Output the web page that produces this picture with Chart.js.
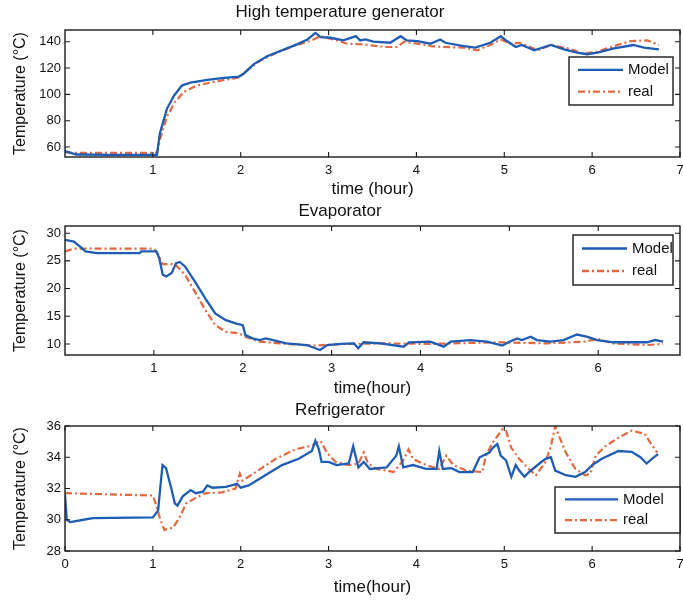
<!DOCTYPE html>
<html>
<head>
<meta charset="utf-8">
<script src="https://cdn.jsdelivr.net/npm/chart.js@4.4.1/dist/chart.umd.min.js"></script>
<style>
  html, body { margin: 0; padding: 0; background: #ffffff; }
  .panel { width: 683px; height: 200px; }
  canvas { display: block; }
</style>
</head>
<body>
<div class="panel"><canvas id="genChart" width="683" height="200"></canvas></div>
<div class="panel"><canvas id="evapChart" width="683" height="200"></canvas></div>
<div class="panel"><canvas id="fridgeChart" width="683" height="200"></canvas></div>
<script>
// ------------------------------------------------------------
// Data (time in hours, temp in °C)
// ------------------------------------------------------------

// High temperature generator
const genModelT = [0, 0.13, 0.5, 1.0, 1.046, 1.08, 1.16, 1.24, 1.33, 1.43, 1.62, 1.81, 1.98, 2.03, 2.15,
  2.30, 2.49, 2.64, 2.76, 2.85, 2.91, 3.02, 3.17, 3.31, 3.36, 3.42, 3.51, 3.70, 3.82, 3.89,
  4.01, 4.16, 4.27, 4.33, 4.54, 4.67, 4.84, 4.96, 5.03, 5.13, 5.20, 5.34, 5.53, 5.68, 5.83,
  5.94, 6.06, 6.25, 6.47, 6.59, 6.76];
const genModelV = [56.8, 54.3, 54, 54, 54, 70.5, 89, 99, 106.7, 109, 111, 112.5, 113.5, 115.5, 123,
  129, 134, 138, 141.7, 146.7, 143.5, 143, 141, 144.2, 141, 141.7, 140, 139.2, 144.2, 141,
  140.5, 138.5, 141.7, 139.2, 136.7, 135.5, 139.2, 144.2, 140.5, 136, 137.5, 133.5, 137.5, 134.2, 131.7,
  130.5, 131.7, 135, 137.5, 135.5, 134.2];
const genRealT = [0, 0.1, 0.5, 1.0, 1.05, 1.08, 1.16, 1.25, 1.35, 1.5, 1.73, 1.96, 2.07, 2.22, 2.41,
  2.60, 2.79, 2.91, 3.06, 3.21, 3.40, 3.63, 3.78, 3.86, 4.01, 4.16, 4.31, 4.54, 4.69, 4.84,
  4.96, 5.07, 5.18, 5.38, 5.53, 5.72, 5.90, 6.06, 6.25, 6.44, 6.63, 6.76];
const genRealV = [56, 55.5, 55.5, 55.5, 56, 65.5, 83, 94, 101.7, 106.7, 110, 112.5, 118, 125.5, 131.7,
  136.7, 140.5, 144.2, 141.7, 138.5, 138, 136, 136, 140, 138.5, 136.7, 136, 135.5, 133.5, 137.5,
  141.7, 138.5, 139.2, 133.5, 137.5, 135, 131, 132.5, 136.7, 140.5, 141, 137.5];
const genXTicks = [1, 2, 3, 4, 5, 6, 7];
const genYTicks = [60, 80, 100, 120, 140];

// Evaporator
const evapModelT = [0, 0.1, 0.19, 0.23, 0.36, 0.84, 0.86, 1.03, 1.06, 1.10, 1.14, 1.20, 1.25, 1.29, 1.35,
  1.46, 1.58, 1.69, 1.81, 1.92, 2.0, 2.03, 2.11, 2.19, 2.26, 2.34, 2.49, 2.72, 2.87, 2.95,
  3.10, 3.25, 3.30, 3.36, 3.55, 3.81, 3.87, 4.11, 4.26, 4.34, 4.56, 4.75, 4.92, 5.0, 5.09,
  5.14, 5.24, 5.31, 5.46, 5.61, 5.76, 5.87, 5.99, 6.17, 6.55, 6.64, 6.73];
const evapModelV = [28.8, 28.5, 27.3, 26.7, 26.4, 26.4, 26.7, 26.7, 25.5, 22.5, 22.2, 22.8, 24.6, 24.8, 24,
  21.3, 18.2, 15.5, 14.3, 13.7, 13.4, 11.6, 11.0, 10.7, 11, 10.7, 10.1, 9.8, 8.9, 9.8,
  10, 10.1, 9.2, 10.3, 10.1, 9.5, 10.3, 10.4, 9.5, 10.4, 10.7, 10.4, 9.7, 10.4, 11.0,
  10.7, 11.3, 10.7, 10.4, 10.7, 11.7, 11.3, 10.7, 10.3, 10.3, 10.7, 10.4];
const evapRealT = [0, 0.1, 1.0, 1.05, 1.10, 1.24, 1.35, 1.46, 1.58, 1.69, 1.81, 1.96, 2.03, 2.19, 2.49,
  2.79, 3.17, 3.6, 4.1, 4.86, 5.42, 5.84, 5.99, 6.17, 6.55, 6.73];
const evapRealV = [26.7, 27.2, 27.2, 26.1, 24.4, 24.4, 22.5, 19.5, 16.1, 13.4, 12.2, 11.9, 11.3, 10.4, 10,
  9.7, 10, 10.1, 10, 10.3, 10.1, 10.4, 10.9, 10.1, 9.8, 10];
const evapXTicks = [1, 2, 3, 4, 5, 6];
const evapYTicks = [10, 15, 20, 25, 30];

// Refrigerator
const fridgeModelT = [0, 0.02, 0.06, 0.21, 0.32, 1.0, 1.06, 1.08, 1.11, 1.15, 1.21, 1.25, 1.28, 1.34, 1.43,
  1.49, 1.57, 1.62, 1.68, 1.83, 1.96, 2.0, 2.09, 2.28, 2.47, 2.66, 2.81, 2.85, 2.89, 2.92,
  3.0, 3.09, 3.23, 3.28, 3.34, 3.40, 3.47, 3.66, 3.77, 3.80, 3.85, 3.96, 4.11, 4.23, 4.26,
  4.30, 4.40, 4.49, 4.64, 4.72, 4.83, 4.87, 4.92, 4.96, 5.02, 5.08, 5.13, 5.17, 5.23, 5.28,
  5.40, 5.47, 5.53, 5.58, 5.70, 5.81, 5.92, 6.0, 6.11, 6.30, 6.45, 6.55, 6.62, 6.68, 6.75];
const fridgeModelV = [31.6, 30, 29.85, 30, 30.1, 30.15, 30.6, 31.8, 33.5, 33.3, 32, 31.05, 30.9, 31.5, 31.9,
  31.7, 31.8, 32.2, 32.05, 32.1, 32.3, 32.05, 32.2, 32.85, 33.5, 33.9, 34.4, 35.05, 34.5, 33.7,
  33.7, 33.5, 33.6, 34.7, 33.35, 33.7, 33.25, 33.35, 34.1, 34.7, 33.35, 33.5, 33.25, 33.25, 34.4,
  33.25, 33.3, 33.05, 33.05, 34.0, 34.3, 34.6, 34.85, 34.1, 33.8, 32.75, 33.5, 33.15, 32.75, 33.05,
  33.6, 33.9, 34.0, 33.15, 32.85, 32.75, 33.05, 33.5, 33.9, 34.4, 34.35, 34.0, 33.6, 33.9, 34.2];
const fridgeRealT = [0, 1.0, 1.04, 1.08, 1.13, 1.23, 1.30, 1.38, 1.49, 1.60, 1.79, 1.94, 1.99, 2.02, 2.17,
  2.40, 2.62, 2.81, 2.91, 2.98, 3.08, 3.23, 3.34, 3.40, 3.45, 3.55, 3.66, 3.74, 3.85, 3.91,
  3.96, 4.11, 4.26, 4.34, 4.42, 4.57, 4.75, 4.79, 4.87, 4.98, 5.02, 5.08, 5.17, 5.28, 5.36,
  5.47, 5.53, 5.58, 5.62, 5.70, 5.81, 5.92, 5.98, 6.04, 6.15, 6.30, 6.45, 6.60, 6.66, 6.74];
const fridgeRealV = [31.7, 31.55, 30.9, 30.1, 29.35, 29.5, 30.1, 31.05, 31.4, 31.7, 31.75, 32.0, 32.95, 32.5, 33.05,
  33.9, 34.5, 34.75, 35.05, 34.3, 33.7, 33.5, 33.6, 34.3, 33.6, 33.25, 33.15, 33.05, 33.8, 34.5,
  33.9, 33.5, 33.25, 34.1, 33.5, 33.15, 33.05, 34.1, 34.95, 35.8, 35.7, 34.6, 33.9, 33.25, 32.85,
  33.7, 34.7, 36, 35.4, 34.3, 33.25, 32.85, 32.95, 34.1, 34.7, 35.25, 35.7, 35.5, 34.95, 34.3];
const fridgeXTicks = [0, 1, 2, 3, 4, 5, 6, 7];
const fridgeYTicks = [28, 30, 32, 34, 36];

const seriesNames = ['Model', 'real'];

// ------------------------------------------------------------
// Look
// ------------------------------------------------------------
const COLORS = {
  model: '#1f5db4',
  real: '#e2683f',
  axis: '#1a1a1a',
  text: '#111111'
};
const REAL_DASH = [7, 3, 2, 3];
const TITLE_SIZE = 17;
const TITLE_LH = TITLE_SIZE * 1.2;

Chart.defaults.font.family = "'Liberation Sans', Arial, sans-serif";
Chart.defaults.color = COLORS.text;
Chart.defaults.animation = false;

function pairs(ts, vs) {
  return ts.map(function(t, i) { return { x: t, y: vs[i] }; });
}

// MATLAB-like box with inward tick marks
const matlabFrame = {
  id: 'matlabFrame',
  afterDatasetsDraw(chart) {
    const ctx = chart.ctx, a = chart.chartArea;
    const sx = chart.scales.x, sy = chart.scales.y;
    const len = 5;
    ctx.save();
    ctx.strokeStyle = COLORS.axis;
    ctx.lineWidth = 1.4;
    ctx.strokeRect(a.left, a.top, a.right - a.left, a.bottom - a.top);
    ctx.lineWidth = 1.1;
    ctx.beginPath();
    sx.ticks.forEach(function(t) {
      const px = sx.getPixelForValue(t.value);
      ctx.moveTo(px, a.bottom); ctx.lineTo(px, a.bottom - len);
      ctx.moveTo(px, a.top); ctx.lineTo(px, a.top + len);
    });
    sy.ticks.forEach(function(t) {
      const py = sy.getPixelForValue(t.value);
      ctx.moveTo(a.left, py); ctx.lineTo(a.left + len, py);
      ctx.moveTo(a.right, py); ctx.lineTo(a.right - len, py);
    });
    ctx.stroke();
    ctx.restore();
  }
};

// legend box drawn inside the axes
const insideLegend = {
  id: 'insideLegend',
  afterDraw(chart, args, opts) {
    const ctx = chart.ctx, a = chart.chartArea;
    const w = opts.width, h = opts.height;
    const left = a.right - opts.right - w;
    const top = opts.top != null ? a.top + opts.top : a.bottom - opts.bottom - h;
    ctx.save();
    ctx.fillStyle = '#ffffff';
    ctx.fillRect(left, top, w, h);
    ctx.strokeStyle = COLORS.axis;
    ctx.lineWidth = 1.4;
    ctx.strokeRect(left, top, w, h);
    ctx.font = "15px 'Liberation Sans', Arial, sans-serif";
    ctx.textBaseline = 'middle';
    chart.data.datasets.forEach(function(ds, i) {
      const y = top + h * (i === 0 ? 0.27 : 0.72);
      ctx.beginPath();
      ctx.strokeStyle = ds.borderColor;
      ctx.lineWidth = 2.3;
      ctx.setLineDash(ds.borderDash || []);
      ctx.moveTo(left + opts.lineStart, y);
      ctx.lineTo(left + opts.lineStart + opts.lineLength, y);
      ctx.stroke();
      ctx.setLineDash([]);
      ctx.fillStyle = COLORS.text;
      ctx.fillText(ds.label, left + opts.lineStart + opts.lineLength + 5, y);
    });
    ctx.restore();
  }
};

function renderPanel(id, cfg) {
  const ctx = document.getElementById(id).getContext('2d');
  const padTop = Math.max(cfg.titleY - TITLE_LH / 2, 0);
  return new Chart(ctx, {
    type: 'line',
    data: {
      datasets: [
        {
          label: seriesNames[0],
          data: pairs(cfg.modelT, cfg.modelV),
          borderColor: COLORS.model,
          borderWidth: 2.3,
          pointRadius: 0,
          tension: 0
        },
        {
          label: seriesNames[1],
          data: pairs(cfg.realT, cfg.realV),
          borderColor: COLORS.real,
          borderWidth: 2.2,
          borderDash: REAL_DASH,
          pointRadius: 0,
          tension: 0
        }
      ]
    },
    options: {
      responsive: false,
      animation: false,
      layout: { padding: { top: padTop, right: 3, left: 0, bottom: 0 } },
      plugins: {
        legend: { display: false },
        tooltip: { enabled: false },
        title: {
          display: true,
          text: cfg.title,
          color: COLORS.text,
          font: { size: TITLE_SIZE, weight: 'normal', lineHeight: 1.2 },
          padding: { top: 0, bottom: cfg.areaTop - padTop - TITLE_LH }
        },
        insideLegend: cfg.legend
      },
      scales: {
        x: {
          type: 'linear',
          min: 0,
          max: cfg.xMax,
          grid: { display: false, drawTicks: false },
          border: { display: false },
          afterBuildTicks: function(s) { s.ticks = cfg.xTicks.map(function(v) { return { value: v }; }); },
          ticks: { color: COLORS.text, font: { size: 13 }, padding: 6, maxRotation: 0, autoSkip: false },
          title: {
            display: true,
            text: cfg.xTitle,
            color: COLORS.text,
            font: { size: 17, lineHeight: 1.2 },
            padding: { top: 0, bottom: cfg.xTitlePad }
          },
          afterFit: function(s) { s.height = 200 - cfg.areaBottom; s.paddingLeft = 0; s.paddingRight = 0; }
        },
        y: {
          min: cfg.yMin,
          max: cfg.yMax,
          grid: { display: false, drawTicks: false },
          border: { display: false },
          afterBuildTicks: function(s) { s.ticks = cfg.yTicks.map(function(v) { return { value: v }; }); },
          ticks: { color: COLORS.text, font: { size: 13 }, padding: 4 },
          title: {
            display: true,
            text: 'Temperature (°C)',
            color: COLORS.text,
            font: { size: 16, lineHeight: 1.2 },
            padding: { top: 11, bottom: 0 }
          },
          afterFit: function(s) { s.width = 65; s.paddingTop = 0; s.paddingBottom = 0; }
        }
      }
    },
    plugins: [matlabFrame, insideLegend]
  });
}

renderPanel('genChart', {
  title: 'High temperature generator',
  xTitle: 'time (hour)',
  modelT: genModelT, modelV: genModelV, realT: genRealT, realV: genRealV,
  xTicks: genXTicks, yTicks: genYTicks,
  xMax: 7, yMin: 52.4, yMax: 148.9,
  titleY: 12, areaTop: 30, areaBottom: 157, xTitlePad: 0,
  legend: { right: 7, top: 27, width: 104, height: 48, lineStart: 9, lineLength: 45 }
});

renderPanel('evapChart', {
  title: 'Evaporator',
  xTitle: 'time(hour)',
  modelT: evapModelT, modelV: evapModelV, realT: evapRealT, realV: evapRealV,
  xTicks: evapXTicks, yTicks: evapYTicks,
  xMax: 6.92, yMin: 8.0, yMax: 31.3,
  titleY: 11, areaTop: 26, areaBottom: 155, xTitlePad: 1,
  legend: { right: 7, top: 9, width: 100, height: 50, lineStart: 9, lineLength: 45 }
});

renderPanel('fridgeChart', {
  title: 'Refrigerator',
  xTitle: 'time(hour)',
  modelT: fridgeModelT, modelV: fridgeModelV, realT: fridgeRealT, realV: fridgeRealV,
  xTicks: fridgeXTicks, yTicks: fridgeYTicks,
  xMax: 7, yMin: 28, yMax: 36,
  titleY: 10, areaTop: 26, areaBottom: 151, xTitlePad: 2,
  legend: { right: 0, bottom: 18, width: 125, height: 46, lineStart: 10, lineLength: 53 }
});
</script>
</body>
</html>
